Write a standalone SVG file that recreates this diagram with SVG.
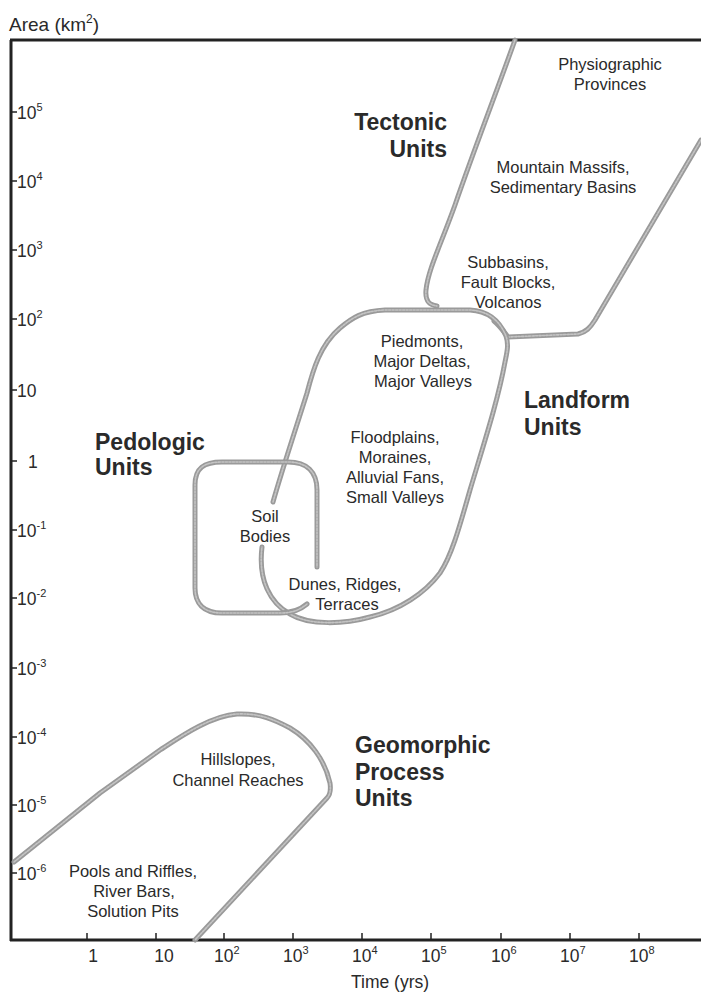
<svg xmlns="http://www.w3.org/2000/svg" width="701" height="992" viewBox="0 0 701 992">
<defs>
<style>
.ax{stroke:#222;stroke-width:3;fill:none}
.tk{stroke:#222;stroke-width:1.5;fill:none}
.bo{fill:none;stroke:#9a9a9a;stroke-width:5;stroke-linecap:round;stroke-linejoin:round}
.bi{fill:none;stroke:#c4c4c4;stroke-width:1.6;stroke-linecap:round;stroke-linejoin:round;stroke-dasharray:2 1.5}
.t{font-family:"Liberation Sans",Arial,sans-serif;font-size:16.5px;fill:#2a2a2a;text-anchor:middle}
.b{font-family:"Liberation Sans",Arial,sans-serif;font-size:23px;font-weight:bold;fill:#2a2a2a}
.n{font-family:"Liberation Sans",Arial,sans-serif;font-size:17.5px;fill:#2a2a2a}
.s{font-size:11px}
</style>
</defs>
<rect width="701" height="992" fill="#fff"/>
<g id="axes">
<path class="ax" d="M10,40 H701 M11,40 V941 M10,940 H701"/>
<path class="tk" d="M11,112 H17 M11,181 H17 M11,250 H17 M11,319 H17 M11,390 H17 M11,461 H17 M11,530 H17 M11,598 H17 M11,668 H17 M11,737 H17 M11,805 H17 M11,873 H17"/>
<path class="tk" d="M87,933 V940 M156,933 V940 M224,933 V940 M293,933 V940 M362,933 V940 M431,933 V940 M501,933 V940 M570,933 V940 M639,933 V940"/>
<text class="n" x="9" y="31" style="font-size:19px">Area (km<tspan class="s" dy="-8" style="font-size:12px">2</tspan><tspan dy="8">)</tspan></text>
<text class="n" x="17" y="119">10<tspan class="s" dy="-8">5</tspan></text>
<text class="n" x="17" y="188">10<tspan class="s" dy="-8">4</tspan></text>
<text class="n" x="17" y="257">10<tspan class="s" dy="-8">3</tspan></text>
<text class="n" x="17" y="326">10<tspan class="s" dy="-8">2</tspan></text>
<text class="n" x="17" y="397">10</text>
<text class="n" x="28" y="468">1</text>
<text class="n" x="17" y="537">10<tspan class="s" dy="-8">-1</tspan></text>
<text class="n" x="17" y="605">10<tspan class="s" dy="-8">-2</tspan></text>
<text class="n" x="17" y="675">10<tspan class="s" dy="-8">-3</tspan></text>
<text class="n" x="17" y="744">10<tspan class="s" dy="-8">-4</tspan></text>
<text class="n" x="17" y="812">10<tspan class="s" dy="-8">-5</tspan></text>
<text class="n" x="17" y="880">10<tspan class="s" dy="-8">-6</tspan></text>
<text class="n" x="93" y="962" text-anchor="middle">1</text>
<text class="n" x="164" y="962" text-anchor="middle">10</text>
<text class="n" x="214" y="962">10<tspan class="s" dy="-8">2</tspan></text>
<text class="n" x="283" y="962">10<tspan class="s" dy="-8">3</tspan></text>
<text class="n" x="352" y="962">10<tspan class="s" dy="-8">4</tspan></text>
<text class="n" x="421" y="962">10<tspan class="s" dy="-8">5</tspan></text>
<text class="n" x="491" y="962">10<tspan class="s" dy="-8">6</tspan></text>
<text class="n" x="560" y="962">10<tspan class="s" dy="-8">7</tspan></text>
<text class="n" x="629" y="962">10<tspan class="s" dy="-8">8</tspan></text>
<text class="n" x="390" y="988" text-anchor="middle">Time (yrs)</text>
</g>
<g id="connectors">
<path id="tectonicLeft" class="bo" d="M515,40 C498,88 474,150 455,205 C441,244 428,270 426,290 C425,301 429,305 437,306"/>
<path class="bi" d="M515,40 C498,88 474,150 455,205 C441,244 428,270 426,290 C425,301 429,305 437,306"/>
<path id="tectonicRight" class="bo" d="M494,321 C500,326 504,332 508,337 L578,334 C586,332 590,328 595,320 L701,140"/>
<path class="bi" d="M494,321 C500,326 504,332 508,337 L578,334 C586,332 590,328 595,320 L701,140"/>
</g>
<g id="landform">
<path class="bo" d="M273,502 C282,470 297,425 307,393 C313,370 320,345 340,328 C352,318 362,311 385,310 L470,310 C490,311 500,322 506,336 C509,345 507,352 505,362 C498,400 485,440 470,490 C460,525 452,555 440,573 C425,593 400,610 370,617 C345,624 310,626 290,614 C270,603 258,580 262,547"/>
<path class="bi" d="M273,502 C282,470 297,425 307,393 C313,370 320,345 340,328 C352,318 362,311 385,310 L470,310 C490,311 500,322 506,336 C509,345 507,352 505,362 C498,400 485,440 470,490 C460,525 452,555 440,573 C425,593 400,610 370,617 C345,624 310,626 290,614 C270,603 258,580 262,547"/>
<text class="b" x="524" y="408">Landform</text>
<text class="b" x="524" y="435">Units</text>
<text class="t" x="422" y="347">Piedmonts,</text>
<text class="t" x="422" y="367">Major Deltas,</text>
<text class="t" x="423" y="387">Major Valleys</text>
<text class="t" x="395" y="443">Floodplains,</text>
<text class="t" x="395" y="463">Moraines,</text>
<text class="t" x="395" y="483">Alluvial Fans,</text>
<text class="t" x="395" y="503">Small Valleys</text>
<text class="t" x="345" y="590">Dunes, Ridges,</text>
<text class="t" x="347" y="610">Terraces</text>
</g>
<g id="tectonic">
<text class="b" x="447" y="130" text-anchor="end">Tectonic</text>
<text class="b" x="447" y="157" text-anchor="end">Units</text>
<text class="t" x="610" y="70">Physiographic</text>
<text class="t" x="610" y="90">Provinces</text>
<text class="t" x="563" y="173">Mountain Massifs,</text>
<text class="t" x="563" y="193">Sedimentary Basins</text>
<text class="t" x="508" y="268">Subbasins,</text>
<text class="t" x="508" y="288">Fault Blocks,</text>
<text class="t" x="508" y="308">Volcanos</text>
</g>
<g id="pedologic">
<path class="bo" d="M307,604 C300,610 292,613 280,613 L222,613 C203,613 195,603 195,588 L195,485 C195,468 204,462 222,462 L288,462 C307,462 317,472 317,490 L317,567"/>
<path class="bi" d="M307,604 C300,610 292,613 280,613 L222,613 C203,613 195,603 195,588 L195,485 C195,468 204,462 222,462 L288,462 C307,462 317,472 317,490 L317,567"/>
<text class="b" x="95" y="450">Pedologic</text>
<text class="b" x="95" y="475">Units</text>
<text class="t" x="265" y="522">Soil</text>
<text class="t" x="265" y="542">Bodies</text>
</g>
<g id="geomorphic">
<path class="bo" d="M14,862 L100,793 L160,750 C180,737 210,716 237,714 C260,713 275,720 290,728 C310,740 325,760 330,783 C331,790 330,795 327,798 L195,940"/>
<path class="bi" d="M14,862 L100,793 L160,750 C180,737 210,716 237,714 C260,713 275,720 290,728 C310,740 325,760 330,783 C331,790 330,795 327,798 L195,940"/>
<text class="b" x="355" y="753">Geomorphic</text>
<text class="b" x="355" y="780">Process</text>
<text class="b" x="355" y="806">Units</text>
<text class="t" x="238" y="765">Hillslopes,</text>
<text class="t" x="238" y="786">Channel Reaches</text>
<text class="t" x="133" y="877">Pools and Riffles,</text>
<text class="t" x="134" y="897">River Bars,</text>
<text class="t" x="133" y="917">Solution Pits</text>
</g>
</svg>
